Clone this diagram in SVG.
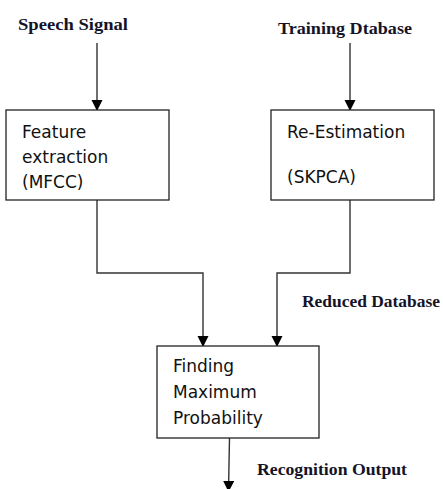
<svg xmlns="http://www.w3.org/2000/svg" width="443" height="489" viewBox="0 0 443 489">
<style>
.box{fill:#fff;stroke:#222;stroke-width:1.3}
.t{font-family:"DejaVu Sans",sans-serif;font-size:17px;fill:#111}
.lbl{font-family:"Liberation Serif","Times New Roman",serif;font-weight:bold;font-size:17.5px;fill:#141428}
.ln{fill:none;stroke:#333;stroke-width:1.4}
</style>
<defs>
<marker id="ah" markerWidth="12" markerHeight="12" refX="10" refY="5.5" orient="auto" markerUnits="userSpaceOnUse">
<path d="M0,0 L11,5.5 L0,11 Z" fill="#000"/>
</marker>
</defs>
<rect width="443" height="489" fill="#fff"/>
<g id="labels">
<text class="lbl" x="18" y="30" textLength="110" lengthAdjust="spacingAndGlyphs">Speech Signal</text>
<text class="lbl" x="278" y="34" textLength="134" lengthAdjust="spacingAndGlyphs">Training Dtabase</text>
<text class="lbl" x="302" y="307" textLength="138" lengthAdjust="spacingAndGlyphs">Reduced Database</text>
<text class="lbl" x="257" y="475" textLength="150" lengthAdjust="spacingAndGlyphs">Recognition Output</text>
</g>
<g id="connectors">
<path class="ln" d="M97,43 V110" marker-end="url(#ah)"/>
<path class="ln" d="M350,43 V110" marker-end="url(#ah)"/>
<path class="ln" d="M97,200 V273 H203 V346" marker-end="url(#ah)"/>
<path class="ln" d="M350,200 V273 H277 V346" marker-end="url(#ah)"/>
<path class="ln" d="M229.5,438 L228.5,491" marker-end="url(#ah)"/>
</g>
<g id="feature-extraction">
<rect class="box" x="6" y="110" width="163" height="90"/>
<text class="t" x="22" y="138">Feature</text>
<text class="t" x="22" y="163">extraction</text>
<text class="t" x="22" y="188">(MFCC)</text>
</g>
<g id="re-estimation">
<rect class="box" x="271" y="110" width="163" height="90"/>
<text class="t" x="287" y="138">Re-Estimation</text>
<text class="t" x="287" y="183">(SKPCA)</text>
</g>
<g id="finding-max">
<rect class="box" x="157" y="346" width="162" height="92"/>
<text class="t" x="173" y="372">Finding</text>
<text class="t" x="173" y="398">Maximum</text>
<text class="t" x="173" y="424">Probability</text>
</g>
</svg>
